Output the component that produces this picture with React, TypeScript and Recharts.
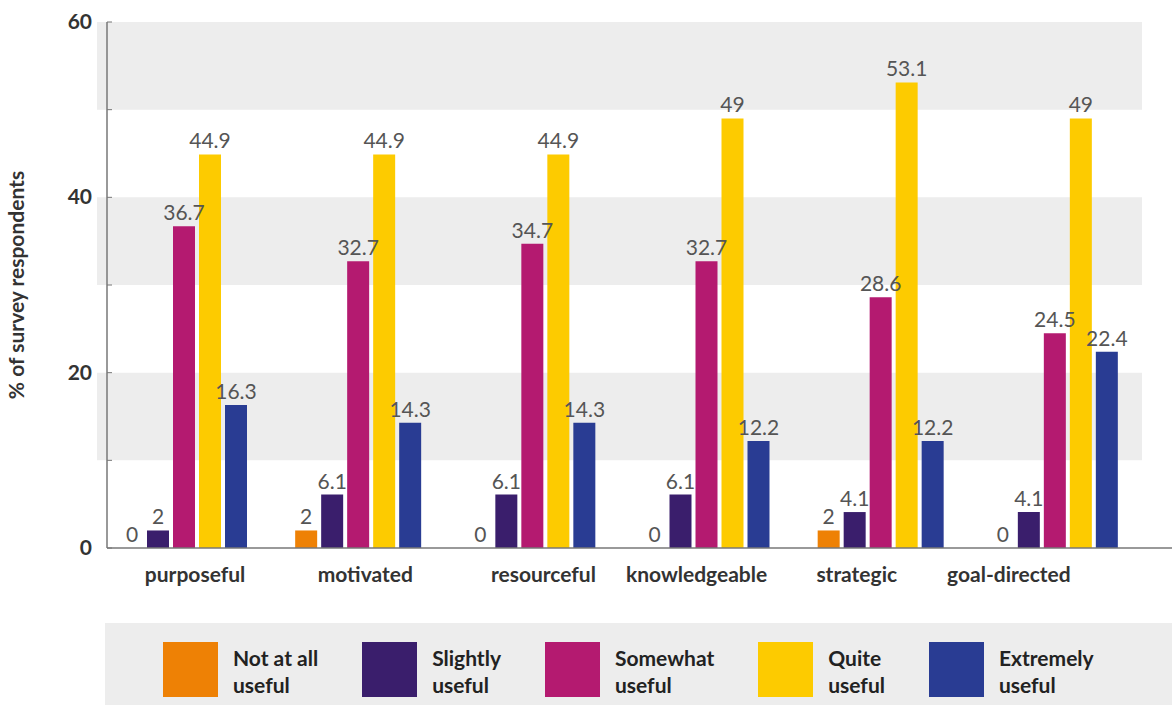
import {
	Bar,
	BarChart,
	LabelList,
	ReferenceArea,
	XAxis,
	YAxis,
} from "recharts";

const categories = ["purposeful", "motivated", "resourceful", "knowledgeable", "strategic", "goal-directed"];

const notAtAll = [0, 2, 0, 0, 2, 0];
const slightly = [2, 6.1, 6.1, 6.1, 4.1, 4.1];
const somewhat = [36.7, 32.7, 34.7, 32.7, 28.6, 24.5];
const quite = [44.9, 44.9, 44.9, 49, 53.1, 49];
const extremely = [16.3, 14.3, 14.3, 12.2, 12.2, 22.4];

const yTicks = [0, 10, 20, 30, 40, 50, 60];
const shadedBands = [[10, 20], [30, 40], [50, 60]];

const series = [
	{key: "notAtAll", label: ["Not at all", "useful"], color: "#ee8105", values: notAtAll},
	{key: "slightly", label: ["Slightly", "useful"], color: "#3a1e6c", values: slightly},
	{key: "somewhat", label: ["Somewhat", "useful"], color: "#b41a70", values: somewhat},
	{key: "quite", label: ["Quite", "useful"], color: "#fdcb00", values: quite},
	{key: "extremely", label: ["Extremely", "useful"], color: "#293c93", values: extremely},
];

const data = categories.map((name, i) => {
	const row: Record<string, string | number> = {name};
	series.forEach((s) => {
		row[s.key] = s.values[i];
	});
	return row;
});

const FONT = "Lato, 'Open Sans', sans-serif";

// category labels sit a little off the bar groups
const tickShift = [11, 7, 11, -10, -24, -46];

function CategoryTick({x, y, payload, index}: { x: number; y: number; payload: { value: string }; index: number }) {
	return (
		<text x={x + (tickShift[index] ?? 0)} y={y} dy={26} textAnchor="middle"
		      fontFamily={FONT} fontSize={21} fontWeight={700} fill="#333">
			{payload.value}
		</text>
	);
}

// y ticks: short inward mark at every 10, a label on every 20
function ValueTick({x, y, payload}: { x: number; y: number; payload: { value: number } }) {
	const v = payload.value;
	return (
		<g>
			<line x1={x} x2={x + 5} y1={y} y2={y} stroke="#777" strokeWidth={1}/>
			{v % 20 === 0 && (
				<text x={x - 15} y={y} dy={7} textAnchor="end"
				      fontFamily={FONT} fontSize={21} fontWeight={700} fill="#333">
					{v}
				</text>
			)}
		</g>
	);
}

function LegendBox() {
	return (
		<div style={{
			position: "absolute", left: 105, top: 623, width: 1067, height: 82,
			background: "#ededed", display: "flex", alignItems: "flex-start",
			paddingLeft: 58, paddingTop: 19, boxSizing: "border-box", fontFamily: FONT,
		}}>
			{series.map((s) => (
				<div key={s.key} style={{display: "flex", alignItems: "flex-start", marginRight: 44}}>
					<div style={{width: 55, height: 55, background: s.color}}/>
					<div style={{
						marginLeft: 15, fontSize: 21, fontWeight: 700, color: "#222",
						lineHeight: "27px", marginTop: 2,
					}}>
						{s.label.map((line) => <div key={line}>{line}</div>)}
					</div>
				</div>
			))}
		</div>
	);
}

export default function App() {
	return (
		<div style={{position: "absolute", left: 0, top: 0, width: 1172, height: 705, background: "#fff"}}>
			<BarChart width={1172} height={705} data={data} barSize={22} barGap={4}
			          margin={{top: 22, right: 0, left: 0, bottom: 117}}>
				{shadedBands.map(([y1, y2]) => (
					<ReferenceArea key={y1} y1={y1} y2={y2} fill="#ededed" fillOpacity={1} stroke="none"/>
				))}
				<XAxis dataKey="name" height={40} padding={{left: -10, right: 30}}
				       axisLine={{stroke: "#777", strokeWidth: 1.5}} tickLine={false}
				       tick={(props: any) => <CategoryTick {...props}/>} interval={0}/>
				<YAxis width={107} domain={[0, 60]} ticks={yTicks} interval={0}
				       axisLine={{stroke: "#777", strokeWidth: 1.5}} tickSize={0} tickMargin={0}
				       tickLine={false}
				       tick={(props: any) => <ValueTick {...props}/>}
				       label={{
					       value: "% of survey respondents", angle: -90, position: "insideLeft",
					       dx: 12, style: {fontFamily: FONT, fontSize: 21, fontWeight: 700, fill: "#333", textAnchor: "middle"},
				       }}/>
				{series.map((s) => (
					<Bar key={s.key} dataKey={s.key} fill={s.color} minPointSize={0.01} isAnimationActive={false}>
						<LabelList dataKey={s.key} position="top" offset={6}
						           style={{fontFamily: FONT, fontSize: 21, fill: "#555"}}/>
					</Bar>
				))}
			</BarChart>
			<LegendBox/>
		</div>
	);
}
